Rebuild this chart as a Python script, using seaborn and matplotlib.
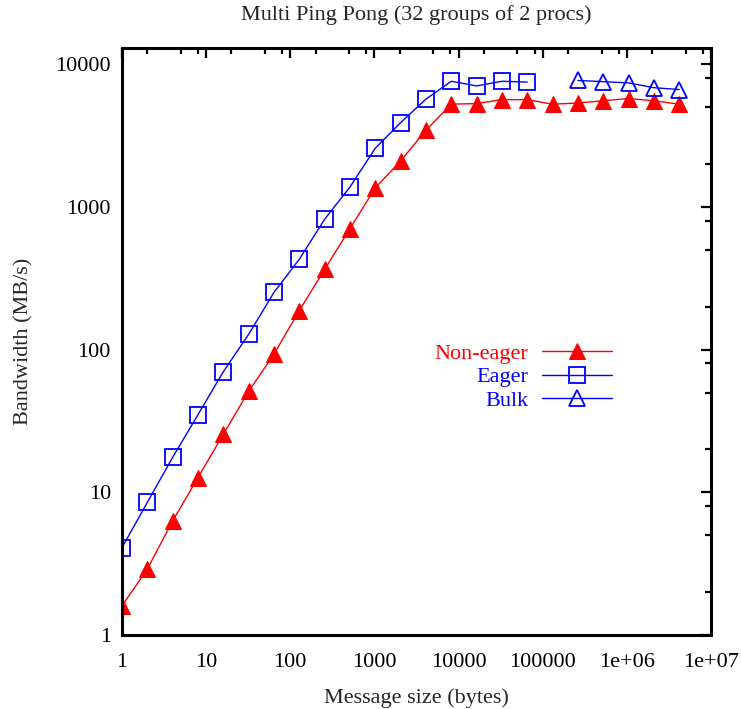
import numpy as np
import pandas as pd
import matplotlib
matplotlib.use("Agg")
import matplotlib.pyplot as plt
import seaborn as sns
from matplotlib.ticker import FixedLocator, FixedFormatter, NullFormatter

sns.set_style("white")
plt.rcParams['font.family'] = ['Liberation Serif', 'DejaVu Serif']

# ---- data ----
sizes_noneager = [2 ** i for i in range(0, 23)]
bw_noneager = [1.6, 2.9, 6.3, 12.7, 25.5, 51, 93, 188, 365, 705, 1360, 2100, 3450,
               5250, 5300, 5650, 5650, 5250, 5350, 5550, 5750, 5550, 5250]
sizes_eager = [2 ** i for i in range(0, 17)]
bw_eager = [4.1, 8.5, 17.6, 35, 70, 128, 252, 430, 820, 1380, 2580, 3900, 5700,
            7600, 7050, 7600, 7500]
sizes_bulk = [2 ** i for i in range(18, 23)]
bw_bulk = [7700, 7550, 7400, 6850, 6650]

xtick_vals = [1, 10, 100, 1000, 10000, 100000, 1e6, 1e7]
xtick_labels = ["1", "10", "100", "1000", "10000", "100000", "1e+06", "1e+07"]
ytick_vals = [1, 10, 100, 1000, 10000]
ytick_labels = ["1", "10", "100", "1000", "10000"]

fig = plt.figure(figsize=(7.41, 7.09), dpi=100)
ax = fig.add_axes([122 / 741, 1 - 635 / 709, (711 - 122) / 741, (635 - 48) / 709])

red = "#ff0000"
blue = "#0000ff"
sns.lineplot(x=sizes_noneager, y=bw_noneager, ax=ax, color=red, marker="^",
             markersize=11, markerfacecolor=red, markeredgecolor=red,
             linewidth=1.0, label="Non-eager")
sns.lineplot(x=sizes_eager, y=bw_eager, ax=ax, color=blue, marker="s",
             markersize=11.5, markerfacecolor="none", markeredgecolor=blue,
             markeredgewidth=1.3, linewidth=1.0, label="Eager")
sns.lineplot(x=sizes_bulk, y=bw_bulk, ax=ax, color=blue, marker="^",
             markersize=12, markerfacecolor="none", markeredgecolor=blue,
             markeredgewidth=1.3, linewidth=1.0, label="Bulk")

ax.set_xscale("log")
ax.set_yscale("log")
ax.set_xlim(1, 1e7)
ax.set_ylim(1, 13000)

ax.xaxis.set_major_locator(FixedLocator(xtick_vals))
ax.xaxis.set_major_formatter(FixedFormatter(xtick_labels))
ax.yaxis.set_major_locator(FixedLocator(ytick_vals))
ax.yaxis.set_major_formatter(FixedFormatter(ytick_labels))
xminor = [m * 10 ** e for e in range(0, 7) for m in (2, 5, 8)]
yminor = [m * 10 ** e for e in range(0, 4) for m in (2, 5, 8)]
ax.xaxis.set_minor_locator(FixedLocator(xminor))
ax.yaxis.set_minor_locator(FixedLocator(yminor))
ax.xaxis.set_minor_formatter(NullFormatter())
ax.yaxis.set_minor_formatter(NullFormatter())

ax.tick_params(which="both", direction="in", top=True, right=True, width=1.6,
               labelsize=16, colors="black")
ax.tick_params(which="major", length=7)
ax.tick_params(which="minor", length=4)
ax.tick_params(axis="x", pad=13)
ax.tick_params(axis="y", pad=8)
for s in ax.spines.values():
    s.set_linewidth(2.2)
    s.set_color("black")

ax.set_xlabel("Message size (bytes)", fontsize=16, labelpad=12)
ax.set_ylabel("Bandwidth (MB/s)", fontsize=16, labelpad=16)
fig.text(0.5 * (122 + 711) / 741, 1 - 15 / 709, "Multi Ping Pong (32 groups of 2 procs)",
         ha="center", va="center", fontsize=16)

leg = ax.legend(loc="center right", bbox_to_anchor=((623 - 122) / 589, (635 - 377) / 587),
                frameon=False, markerfirst=False, handlelength=3.15, fontsize=16,
                labelspacing=0.12, handletextpad=0.6, borderpad=0, labelcolor="linecolor")
for t in leg.get_texts():
    t.set_ha("right")
leg._legend_box.align = "right"

fig.savefig("out.png", dpi=100)
